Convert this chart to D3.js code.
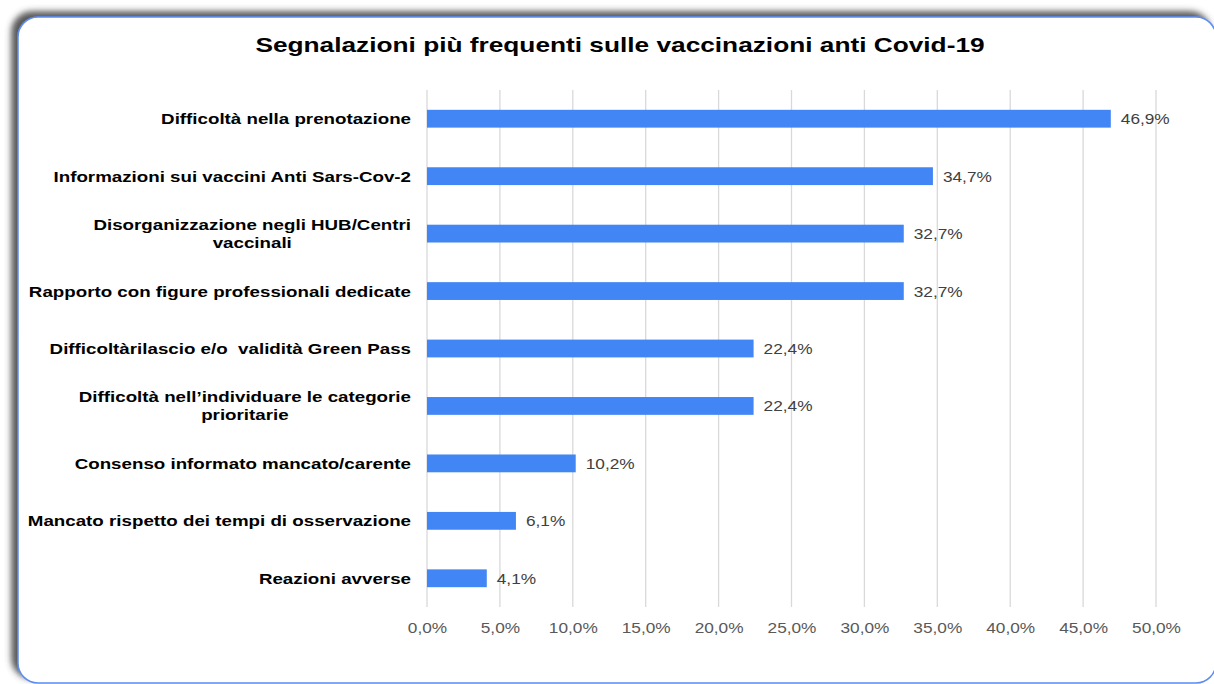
<!DOCTYPE html>
<html>
<head>
<meta charset="utf-8">
<script src="https://cdn.jsdelivr.net/npm/d3@7"></script>
<style>
  html, body { margin: 0; padding: 0; background: #fff; }
  svg { display: block; font-family: "Liberation Sans", Arial, sans-serif; }
  svg text { white-space: pre; }
</style>
</head>
<body>
<svg id="chart" width="1214" height="684"></svg>
<script>
// data
var categories = [
  ["Difficoltà nella prenotazione"],
  ["Informazioni sui vaccini Anti Sars-Cov-2"],
  ["Disorganizzazione negli HUB/Centri", "vaccinali"],
  ["Rapporto con figure professionali dedicate"],
  ["Difficoltàrilascio e/o  validità Green Pass"],
  ["Difficoltà nell\u2019individuare le categorie", "prioritarie"],
  ["Consenso informato mancato/carente"],
  ["Mancato rispetto dei tempi di osservazione"],
  ["Reazioni avverse"]
];
var values = [46.9, 34.7, 32.7, 32.7, 22.4, 22.4, 10.2, 6.1, 4.1];
var ticks = [0, 5, 10, 15, 20, 25, 30, 35, 40, 45, 50];

var svg = d3.select("#chart");
var margin = { left: 427, right: 58, top: 90, bottom: 77 };
var W = 1214, H = 684;
var sxBold = 1.25, sxGray = 1.15; // picture is stretched horizontally

var fmt = function(v) { return v.toFixed(1).replace(".", ",") + "%"; };

// card with shadow
var defs = svg.append("defs");
var f = defs.append("filter").attr("id", "shadow")
  .attr("x", "-5%").attr("y", "-5%").attr("width", "110%").attr("height", "110%");
f.append("feDropShadow")
  .attr("dx", -6).attr("dy", -5)
  .attr("stdDeviation", 3)
  .attr("flood-color", "#444")
  .attr("flood-opacity", 0.9);

svg.append("rect")
  .attr("x", 18).attr("y", 17)
  .attr("width", 1214 - 18 + 2).attr("height", 684 - 17 - 1)
  .attr("rx", 20).attr("ry", 20)
  .attr("fill", "#fff")
  .attr("stroke", "#5b8def")
  .attr("stroke-width", 1.5)
  .attr("filter", "url(#shadow)");

// title
svg.append("text")
  .attr("transform", "translate(620,52) scale(" + sxBold + ",1)")
  .attr("text-anchor", "middle")
  .attr("font-size", 21)
  .attr("font-weight", "bold")
  .attr("fill", "#000")
  .text("Segnalazioni più frequenti sulle vaccinazioni anti Covid-19");

// scales
var x = d3.scaleLinear().domain([0, 50]).range([margin.left, W - margin.right]);
var y = d3.scaleBand().domain(d3.range(categories.length))
  .range([margin.top, H - margin.bottom]).paddingInner(0.69).paddingOuter(0.345);

// grid
svg.append("g").selectAll("line")
  .data(ticks).enter().append("line")
  .attr("x1", function(d) { return x(d); })
  .attr("x2", function(d) { return x(d); })
  .attr("y1", margin.top)
  .attr("y2", H - margin.bottom)
  .attr("stroke", "#d9d9d9")
  .attr("stroke-width", 1.3);

// x axis labels
var xAxis = d3.axisBottom(x).tickValues(ticks).tickSize(0).tickPadding(0)
  .tickFormat(function(d) { return fmt(d); });
var gx = svg.append("g").attr("transform", "translate(0," + (H - margin.bottom) + ")").call(xAxis);
gx.select(".domain").remove();
gx.selectAll("text")
  .attr("dy", null).attr("y", 26)
  .attr("transform", "scale(" + sxGray + ",1)")
  .attr("font-size", 15)
  .attr("font-family", "Liberation Sans, Arial, sans-serif")
  .attr("fill", "#595959");

// bars
svg.append("g").selectAll("rect")
  .data(values).enter().append("rect")
  .attr("x", x(0))
  .attr("y", function(d, i) { return y(i); })
  .attr("width", function(d) { return x(d) - x(0); })
  .attr("height", y.bandwidth())
  .attr("fill", "#4285f4");

// value labels
svg.append("g").selectAll("text")
  .data(values).enter().append("text")
  .attr("transform", function(d, i) {
    return "translate(" + (x(d) + 10) + "," + (y(i) + y.bandwidth() / 2 + 5.5) + ") scale(" + sxGray + ",1)";
  })
  .attr("font-size", 15)
  .attr("fill", "#404040")
  .text(function(d) { return fmt(d); });

// category labels: block right-aligned, lines centred inside it
var labelRight = 411;
var lineH = 18;
var gl = svg.append("g");
categories.forEach(function(lines, i) {
  var cy = y(i) + y.bandwidth() / 2;
  var t = gl.append("text")
    .attr("transform", "translate(" + labelRight + ",0) scale(" + sxBold + ",1)")
    .attr("font-size", 15)
    .attr("font-weight", "bold")
    .attr("fill", "#000")
    .attr("text-anchor", "middle");
  var y0 = cy + 5.5 - (lines.length - 1) * lineH / 2;
  lines.forEach(function(s, j) {
    t.append("tspan").attr("x", 0).attr("y", y0 + j * lineH).text(s);
  });
  var w = t.node().getBBox().width;
  t.selectAll("tspan").attr("x", -w / 2);
});
</script>
</body>
</html>
